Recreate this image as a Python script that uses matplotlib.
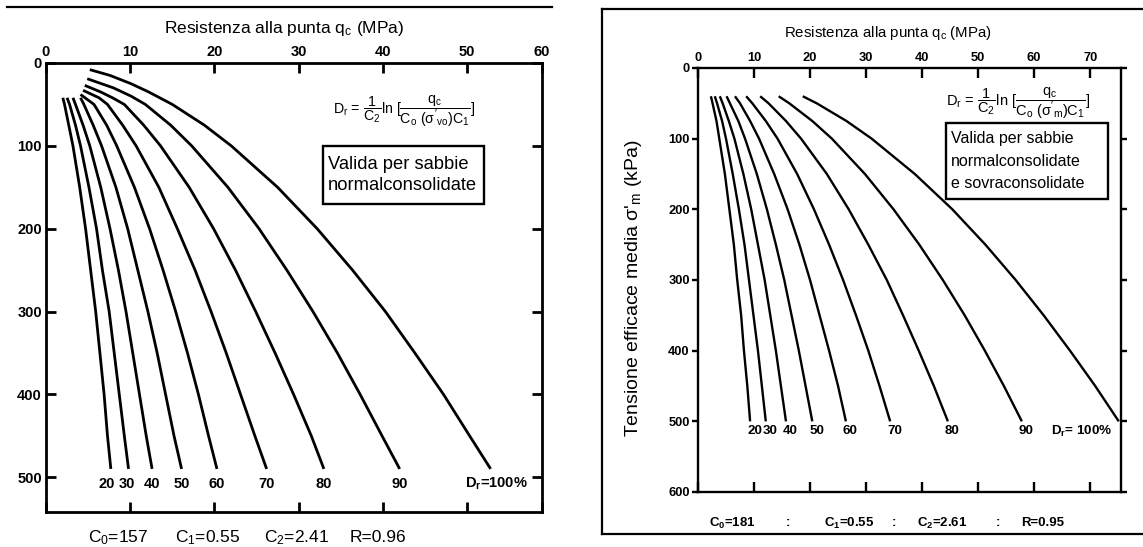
import matplotlib
matplotlib.use("Agg")
import matplotlib.pyplot as plt
from matplotlib.lines import Line2D
from matplotlib.patches import Rectangle

plt.rcParams['font.family'] = ['Liberation Sans', 'DejaVu Sans']
plt.rcParams['mathtext.fontset'] = 'custom'
plt.rcParams['mathtext.rm'] = 'Liberation Sans'
plt.rcParams['mathtext.it'] = 'Liberation Sans'
plt.rcParams['mathtext.sf'] = 'Liberation Sans'
plt.rcParams['mathtext.bf'] = 'Liberation Sans:bold'

# ---------------- data: normally consolidated sands (left) ----------------
# vertical effective stress sigma'_vo (kPa) and cone resistance q_c (MPa)
nc_sv_20 = [42, 50, 75, 100, 150, 200, 250, 300, 350, 400, 450, 490]
nc_qc_20 = [2.0, 2.2, 2.7, 3.2, 4.0, 4.7, 5.3, 5.9, 6.4, 6.9, 7.3, 7.7]
nc_sv_30 = [42, 50, 75, 100, 150, 200, 250, 300, 350, 400, 450, 490]
nc_qc_30 = [2.5, 2.8, 3.5, 4.1, 5.1, 6.0, 6.7, 7.5, 8.1, 8.7, 9.3, 9.8]
nc_sv_40 = [42, 50, 75, 100, 150, 200, 250, 300, 350, 400, 450, 490]
nc_qc_40 = [3.2, 3.5, 4.4, 5.2, 6.5, 7.6, 8.6, 9.5, 10.3, 11.1, 11.9, 12.6]
nc_sv_50 = [42, 50, 75, 100, 150, 200, 250, 300, 350, 400, 450, 490]
nc_qc_50 = [4.1, 4.5, 5.6, 6.6, 8.3, 9.7, 10.9, 12.1, 13.2, 14.2, 15.2, 16.1]
nc_sv_60 = [38, 50, 75, 100, 150, 200, 250, 300, 350, 400, 450, 490]
nc_qc_60 = [4.1, 5.7, 7.2, 8.4, 10.5, 12.3, 13.9, 15.4, 16.8, 18.1, 19.3, 20.3]
nc_sv_70 = [33, 42, 50, 75, 100, 150, 200, 250, 300, 350, 400, 450, 490]
nc_qc_70 = [4.4, 6.3, 7.3, 9.1, 10.7, 13.4, 15.6, 17.7, 19.6, 21.4, 23.1, 24.8, 26.2]
nc_sv_80 = [27, 35, 42, 50, 75, 100, 150, 200, 250, 300, 350, 400, 450, 490]
nc_qc_80 = [4.6, 6.5, 7.9, 9.3, 11.6, 13.6, 17.0, 19.9, 22.5, 24.9, 27.2, 29.4, 31.5, 33.0]
nc_sv_90 = [19, 30, 40, 50, 75, 100, 150, 200, 250, 300, 350, 400, 450, 490]
nc_qc_90 = [4.9, 8.0, 10.1, 11.8, 14.8, 17.3, 21.6, 25.3, 28.6, 31.7, 34.6, 37.3, 39.9, 42.0]
nc_sv_100 = [8, 15, 25, 35, 50, 75, 100, 150, 200, 250, 300, 350, 400, 450, 490]
nc_qc_100 = [5.2, 7.6, 10.1, 12.2, 15.0, 18.8, 22.0, 27.5, 32.2, 36.4, 40.3, 43.8, 47.2, 50.3, 52.8]

nc_labels = ["20", "30", "40", "50", "60", "70", "80", "90", "D$_\\mathbf{r}$=100%"]
nc_label_shift = [-0.5, -0.2, 0, 0, 0, 0, 0, 0, 0.7]

# ---------------- data: NC + OC sands (right) ----------------
# mean effective stress sigma'_m (kPa) and cone resistance q_c (MPa)
oc_sv = [40, 50, 75, 100, 150, 200, 250, 300, 350, 400, 450, 500]
oc_qc_20 = [2.3, 2.6, 3.3, 3.8, 4.8, 5.6, 6.4, 7.0, 7.7, 8.2, 8.8, 9.3]
oc_qc_30 = [3.0, 3.4, 4.3, 5.0, 6.2, 7.3, 8.3, 9.1, 9.9, 10.7, 11.4, 12.1]
oc_qc_40 = [3.9, 4.4, 5.5, 6.5, 8.1, 9.5, 10.7, 11.9, 12.9, 13.9, 14.8, 15.7]
oc_qc_50 = [5.1, 5.7, 7.2, 8.4, 10.5, 12.3, 13.9, 15.4, 16.7, 18.0, 19.2, 20.4]
oc_qc_60 = [6.6, 7.5, 9.3, 10.9, 13.6, 16.0, 18.1, 20.0, 21.7, 23.4, 25.0, 26.4]
oc_qc_70 = [8.6, 9.7, 12.1, 14.2, 17.7, 20.7, 23.4, 25.9, 28.2, 30.4, 32.4, 34.3]
oc_qc_80 = [11.1, 12.6, 15.7, 18.4, 23.0, 26.9, 30.4, 33.7, 36.6, 39.4, 42.1, 44.6]
oc_qc_90 = [14.4, 16.3, 20.4, 23.9, 29.8, 34.9, 39.5, 43.7, 47.6, 51.2, 54.6, 57.8]
oc_qc_100 = [18.7, 21.2, 26.5, 31.0, 38.7, 45.4, 51.3, 56.7, 61.7, 66.4, 70.9, 75.1]

oc_labels = ["20", "30", "40", "50", "60", "70", "80", "90", "D$_\\mathbf{r}$= 100%"]

nc_xticks = [0, 10, 20, 30, 40, 50]
nc_xmax = 58.9            # right edge of the printed q_c scale, marked "60"
nc_yticks = [0, 100, 200, 300, 400, 500]
oc_xticks = [0, 10, 20, 30, 40, 50, 60, 70]
oc_yticks = [0, 100, 200, 300, 400, 500, 600]

W, H = 1143, 547
fig = plt.figure(figsize=(W / 100, H / 100), dpi=100)


def fx(x):
    return x / W


def fy(y):
    return 1 - y / H


def frame_axes(x0, y0, x1, y1):
    return fig.add_axes([fx(x0), fy(y1), fx(x1) - fx(x0), fy(y0) - fy(y1)])


def style(ax, lw, lsize):
    for s in ax.spines.values():
        s.set_linewidth(lw)
    ax.tick_params(axis='both', direction='in', length=7, width=lw,
                   top=True, right=True, bottom=True, left=True,
                   labeltop=True, labelbottom=False, labelleft=True,
                   labelright=False, labelsize=lsize, pad=3)
    for t in ax.get_xticklabels() + ax.get_yticklabels():
        t.set_fontweight('bold')


# ---------------- left panel ----------------
ax1 = frame_axes(46, 63, 542, 512)
nc_series = [(nc_sv_20, nc_qc_20), (nc_sv_30, nc_qc_30), (nc_sv_40, nc_qc_40),
             (nc_sv_50, nc_qc_50), (nc_sv_60, nc_qc_60), (nc_sv_70, nc_qc_70),
             (nc_sv_80, nc_qc_80), (nc_sv_90, nc_qc_90), (nc_sv_100, nc_qc_100)]
for (sv, qc), lab, dx in zip(nc_series, nc_labels, nc_label_shift):
    ax1.plot(qc, sv, color='black', lw=2.0, solid_capstyle='butt')
    ax1.text(qc[-1] + dx, 508, lab, ha='center', va='center',
             fontsize=10.5, fontweight='bold')
ax1.set_xlim(0, nc_xmax)
ax1.set_ylim(542, 0)
ax1.set_xticks(nc_xticks + [nc_xmax])
ax1.set_xticklabels([str(v) for v in nc_xticks] + ["60"])
ax1.set_yticks(nc_yticks)
style(ax1, 2.0, 10.5)

fig.text(fx(284), fy(29), "Resistenza alla punta q$_\\mathrm{c}$ (MPa)",
         ha='center', va='center', fontsize=12.5)
fig.text(fx(404), fy(111),
         r"D$_\mathrm{r}$ = $\dfrac{1}{\mathrm{C}_2}$ln [$\dfrac{\mathrm{q}_\mathrm{c}}{\mathrm{C}_\mathrm{o}\ (\sigma'_{\mathrm{vo}})\mathrm{C}_1}$]",
         ha='center', va='center', fontsize=10.2)
fig.add_artist(Rectangle((fx(323), fy(204)), fx(484) - fx(323), fy(146) - fy(204),
                         transform=fig.transFigure, fill=False, ec='black', lw=1.7))
fig.text(fx(328), fy(175), "Valida per sabbie\nnormalconsolidate",
         ha='left', va='center', fontsize=13.2, linespacing=1.25)

for x, s in [(88, "C$_0$=157"), (175, "C$_1$=0.55"), (264, "C$_2$=2.41"), (350, "R=0.96")]:
    fig.text(fx(x), fy(538), s, ha='left', va='center', fontsize=12.5)

fig.add_artist(Line2D([fx(7), fx(552)], [fy(7), fy(7)], color='black', lw=1.6,
                      transform=fig.transFigure))

# ---------------- right panel ----------------
ax2 = frame_axes(698, 68, 1121, 492)
oc_series = [oc_qc_20, oc_qc_30, oc_qc_40, oc_qc_50, oc_qc_60,
             oc_qc_70, oc_qc_80, oc_qc_90, oc_qc_100]
for qc, lab in zip(oc_series, oc_labels):
    ax2.plot(qc, oc_sv, color='black', lw=1.7, solid_capstyle='butt')
    if lab.startswith('D'):
        ax2.text(74, 514, lab, ha='right', va='center', fontsize=9.6, fontweight='bold')
    else:
        ax2.text(qc[-1] + 0.8, 514, lab, ha='center', va='center',
                 fontsize=9.6, fontweight='bold')
ax2.set_xlim(0, 75.5)
ax2.set_ylim(600, 0)
ax2.set_xticks(oc_xticks)
ax2.set_yticks(oc_yticks)
style(ax2, 1.7, 9.3)
ax2.tick_params(axis='y', which='both', left=True, direction='out', length=4, pad=2)
ax2.tick_params(axis='y', right=True)

fig.text(fx(888), fy(33), "Resistenza alla punta q$_\\mathrm{c}$ (MPa)",
         ha='center', va='center', fontsize=10.8)
fig.text(fx(633), fy(288), "Tensione efficace media σ'$_\\mathrm{m}$ (kPa)",
         ha='center', va='center', rotation=90, fontsize=14)
fig.text(fx(1018), fy(103),
         r"D$_\mathrm{r}$ = $\dfrac{1}{\mathrm{C}_2}$ln [$\dfrac{\mathrm{q}_\mathrm{c}}{\mathrm{C}_\mathrm{o}\ (\sigma'_{\mathrm{m}})\mathrm{C}_1}$]",
         ha='center', va='center', fontsize=10.5)
fig.add_artist(Rectangle((fx(946), fy(199)), fx(1108) - fx(946), fy(123) - fy(199),
                         transform=fig.transFigure, fill=False, ec='black', lw=1.7))
fig.text(fx(951), fy(161), "Valida per sabbie\nnormalconsolidate\ne sovraconsolidate",
         ha='left', va='center', fontsize=11.5, linespacing=1.62)

for x, s in [(709, "C$_\\mathbf{0}$=181"), (786, ":"), (824, "C$_\\mathbf{1}$=0.55"),
             (892, ":"), (917, "C$_\\mathbf{2}$=2.61"), (996, ":"), (1021, "R=0.95")]:
    fig.text(fx(x), fy(523), s, ha='left', va='center', fontsize=9.5, fontweight='bold')

# border of the right sheet
fig.add_artist(Line2D([fx(602), fx(1143)], [fy(9), fy(9)], color='black', lw=1.6,
                      transform=fig.transFigure))
fig.add_artist(Line2D([fx(602), fx(602)], [fy(9), fy(534)], color='black', lw=1.6,
                      transform=fig.transFigure))
fig.add_artist(Line2D([fx(602), fx(1143)], [fy(534), fy(534)], color='black', lw=1.6,
                      transform=fig.transFigure))

fig.savefig("out.png", dpi=100, facecolor='white')
